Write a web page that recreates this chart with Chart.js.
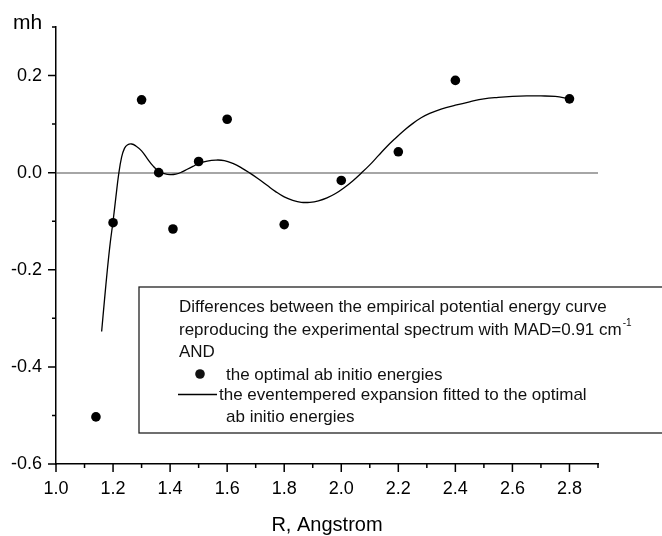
<!DOCTYPE html>
<html><head><meta charset="utf-8">
<script src="https://cdn.jsdelivr.net/npm/chart.js@4.4.0/dist/chart.umd.min.js"></script>
<style>html,body{margin:0;padding:0;background:#fff;}canvas{display:block;}</style>
</head><body>
<canvas id="c" width="662" height="536" style="width:662px;height:536px"></canvas>
<script>
// ---- data ----
const abInitioR    = [1.14, 1.20, 1.30, 1.36, 1.41, 1.50, 1.60, 1.80, 2.00, 2.20, 2.40, 2.80];
const abInitioDiff = [-0.503, -0.103, 0.150, 0.000, -0.116, 0.023, 0.110, -0.107, -0.016, 0.043, 0.190, 0.152];

const fitR    = [1.160, 1.170, 1.180, 1.190, 1.200, 1.210, 1.220, 1.230, 1.240, 1.250, 1.265, 1.280, 1.300, 1.320, 1.340, 1.360, 1.380, 1.400, 1.420, 1.440, 1.460, 1.480, 1.500, 1.530, 1.560, 1.590, 1.620, 1.650, 1.680, 1.710, 1.740, 1.770, 1.800, 1.830, 1.860, 1.890, 1.920, 1.950, 1.980, 2.010, 2.040, 2.070, 2.100, 2.130, 2.160, 2.190, 2.220, 2.250, 2.280, 2.310, 2.350, 2.400, 2.450, 2.500, 2.550, 2.600, 2.650, 2.700, 2.750, 2.800];
const fitDiff = [-0.327, -0.262, -0.200, -0.145, -0.100, -0.050, -0.002, 0.032, 0.050, 0.057, 0.059, 0.055, 0.045, 0.029, 0.014, 0.003, -0.002, -0.004, -0.003, 0.001, 0.007, 0.013, 0.019, 0.024, 0.026, 0.025, 0.019, 0.010, -0.001, -0.013, -0.026, -0.039, -0.050, -0.057, -0.061, -0.061, -0.058, -0.052, -0.043, -0.031, -0.017, -0.001, 0.016, 0.035, 0.054, 0.071, 0.087, 0.101, 0.113, 0.122, 0.131, 0.139, 0.146, 0.152, 0.155, 0.157, 0.158, 0.158, 0.157, 0.152];

const xTickLabels = [1.0, 1.2, 1.4, 1.6, 1.8, 2.0, 2.2, 2.4, 2.6, 2.8];
const xMinorTicks = [1.1, 1.3, 1.5, 1.7, 1.9, 2.1, 2.3, 2.5, 2.7, 2.9];
const yTickLabels = [-0.6, -0.4, -0.2, 0.0, 0.2];
const yMinorTicks = [-0.5, -0.3, -0.1, 0.1, 0.3];

const xTitle = 'R, Angstrom';
const yTitle = 'mh';
const legendLines = [
  'Differences between the empirical potential energy curve',
  'reproducing the experimental spectrum with MAD=0.91 cm',
  'AND'
];
const legendDots = 'the optimal ab initio energies';
const legendLine1 = 'the eventempered expansion fitted to the optimal';
const legendLine2 = 'ab initio energies';

const FONT = '"Liberation Sans", Arial, Helvetica, sans-serif';
Chart.defaults.font.family = FONT;

const decor = {
  id: 'decor',
  afterDraw(chart) {
    const ctx = chart.ctx;
    const xs = chart.scales.x, ys = chart.scales.y;
    const a = chart.chartArea;
    ctx.save();
    ctx.strokeStyle = '#000';
    ctx.lineWidth = 1.5;
    ctx.beginPath();
    xTickLabels.forEach(v => { const p = xs.getPixelForValue(v); ctx.moveTo(p, a.bottom); ctx.lineTo(p, a.bottom + 8); });
    xMinorTicks.forEach(v => { const p = xs.getPixelForValue(v); ctx.moveTo(p, a.bottom); ctx.lineTo(p, a.bottom + 4); });
    yTickLabels.forEach(v => { const p = ys.getPixelForValue(v); ctx.moveTo(a.left - 8, p); ctx.lineTo(a.left, p); });
    yMinorTicks.forEach(v => { const p = ys.getPixelForValue(v); ctx.moveTo(a.left - 4, p); ctx.lineTo(a.left, p); });
    ctx.stroke();

    ctx.fillStyle = '#000';
    ctx.textBaseline = 'alphabetic';
    ctx.font = '21px ' + FONT;
    ctx.textAlign = 'left';
    ctx.fillText(yTitle, 13, 29);
    ctx.font = '20px ' + FONT;
    ctx.textAlign = 'center';
    ctx.fillText(xTitle, (a.left + a.right) / 2, 531);

    // legend box
    ctx.fillStyle = '#fff';
    ctx.fillRect(139, 287, 540, 146);
    ctx.strokeStyle = '#222';
    ctx.lineWidth = 1.3;
    ctx.strokeRect(139, 287, 540, 146);

    ctx.fillStyle = '#111';
    ctx.textAlign = 'left';
    ctx.font = '17px ' + FONT;
    const base = [312, 335, 357];
    legendLines.forEach((t, i) => ctx.fillText(t, 179, base[i]));
    const w = ctx.measureText(legendLines[1]).width;
    ctx.font = '10px ' + FONT;
    ctx.fillText('-1', 179 + w + 1, 326);
    ctx.font = '17px ' + FONT;
    ctx.beginPath();
    ctx.arc(200, 374, 4.8, 0, Math.PI * 2);
    ctx.fill();
    ctx.fillText(legendDots, 226, 380);
    ctx.strokeStyle = '#000';
    ctx.lineWidth = 1.3;
    ctx.beginPath();
    ctx.moveTo(178, 394.5); ctx.lineTo(217, 394.5);
    ctx.stroke();
    ctx.fillText(legendLine1, 219, 400);
    ctx.fillText(legendLine2, 226, 422);
    ctx.restore();
  }
};

new Chart(document.getElementById('c'), {
  type: 'scatter',
  data: {
    datasets: [
      {
        label: 'the optimal ab initio energies',
        data: abInitioR.map((r, i) => ({ x: r, y: abInitioDiff[i] })),
        pointRadius: 4.8,
        pointBackgroundColor: '#000',
        pointBorderColor: '#000',
        pointBorderWidth: 0,
        showLine: false
      },
      {
        label: 'the eventempered expansion fitted to the optimal ab initio energies',
        data: fitR.map((r, i) => ({ x: r, y: fitDiff[i] })),
        showLine: true,
        pointRadius: 0,
        borderColor: '#000',
        borderWidth: 1.3,
        tension: 0.4,
        fill: false
      }
    ]
  },
  options: {
    responsive: false,
    animation: false,
    devicePixelRatio: 1,
    layout: { padding: { left: 0, right: 64, top: 27, bottom: 0 } },
    plugins: { legend: { display: false }, tooltip: { enabled: false }, title: { display: false } },
    scales: {
      x: {
        type: 'linear', min: 1.0, max: 2.9,
        afterBuildTicks: s => { s.ticks = xTickLabels.map(v => ({ value: v })); },
        afterFit: s => { s.height = 72; },
        ticks: { callback: v => Number(v).toFixed(1), color: '#000', font: { size: 18 }, padding: 14, maxRotation: 0, autoSkip: false },
        grid: { display: false, drawTicks: false },
        border: { display: true, color: '#000', width: 1.5 }
      },
      y: {
        type: 'linear', min: -0.6, max: 0.3,
        afterBuildTicks: s => { s.ticks = yTickLabels.map(v => ({ value: v })); },
        afterFit: s => { s.width = 56; },
        ticks: { callback: v => Number(v).toFixed(1), color: '#000', font: { size: 18 }, padding: 14, autoSkip: false },
        grid: {
          display: true, drawOnChartArea: true, drawTicks: false, lineWidth: 2,
          color: c => (c.tick && Math.abs(c.tick.value) < 1e-9) ? '#a6a6a6' : 'rgba(0,0,0,0)'
        },
        border: { display: true, color: '#000', width: 1.5 }
      }
    }
  },
  plugins: [decor]
});
</script>
</body></html>
